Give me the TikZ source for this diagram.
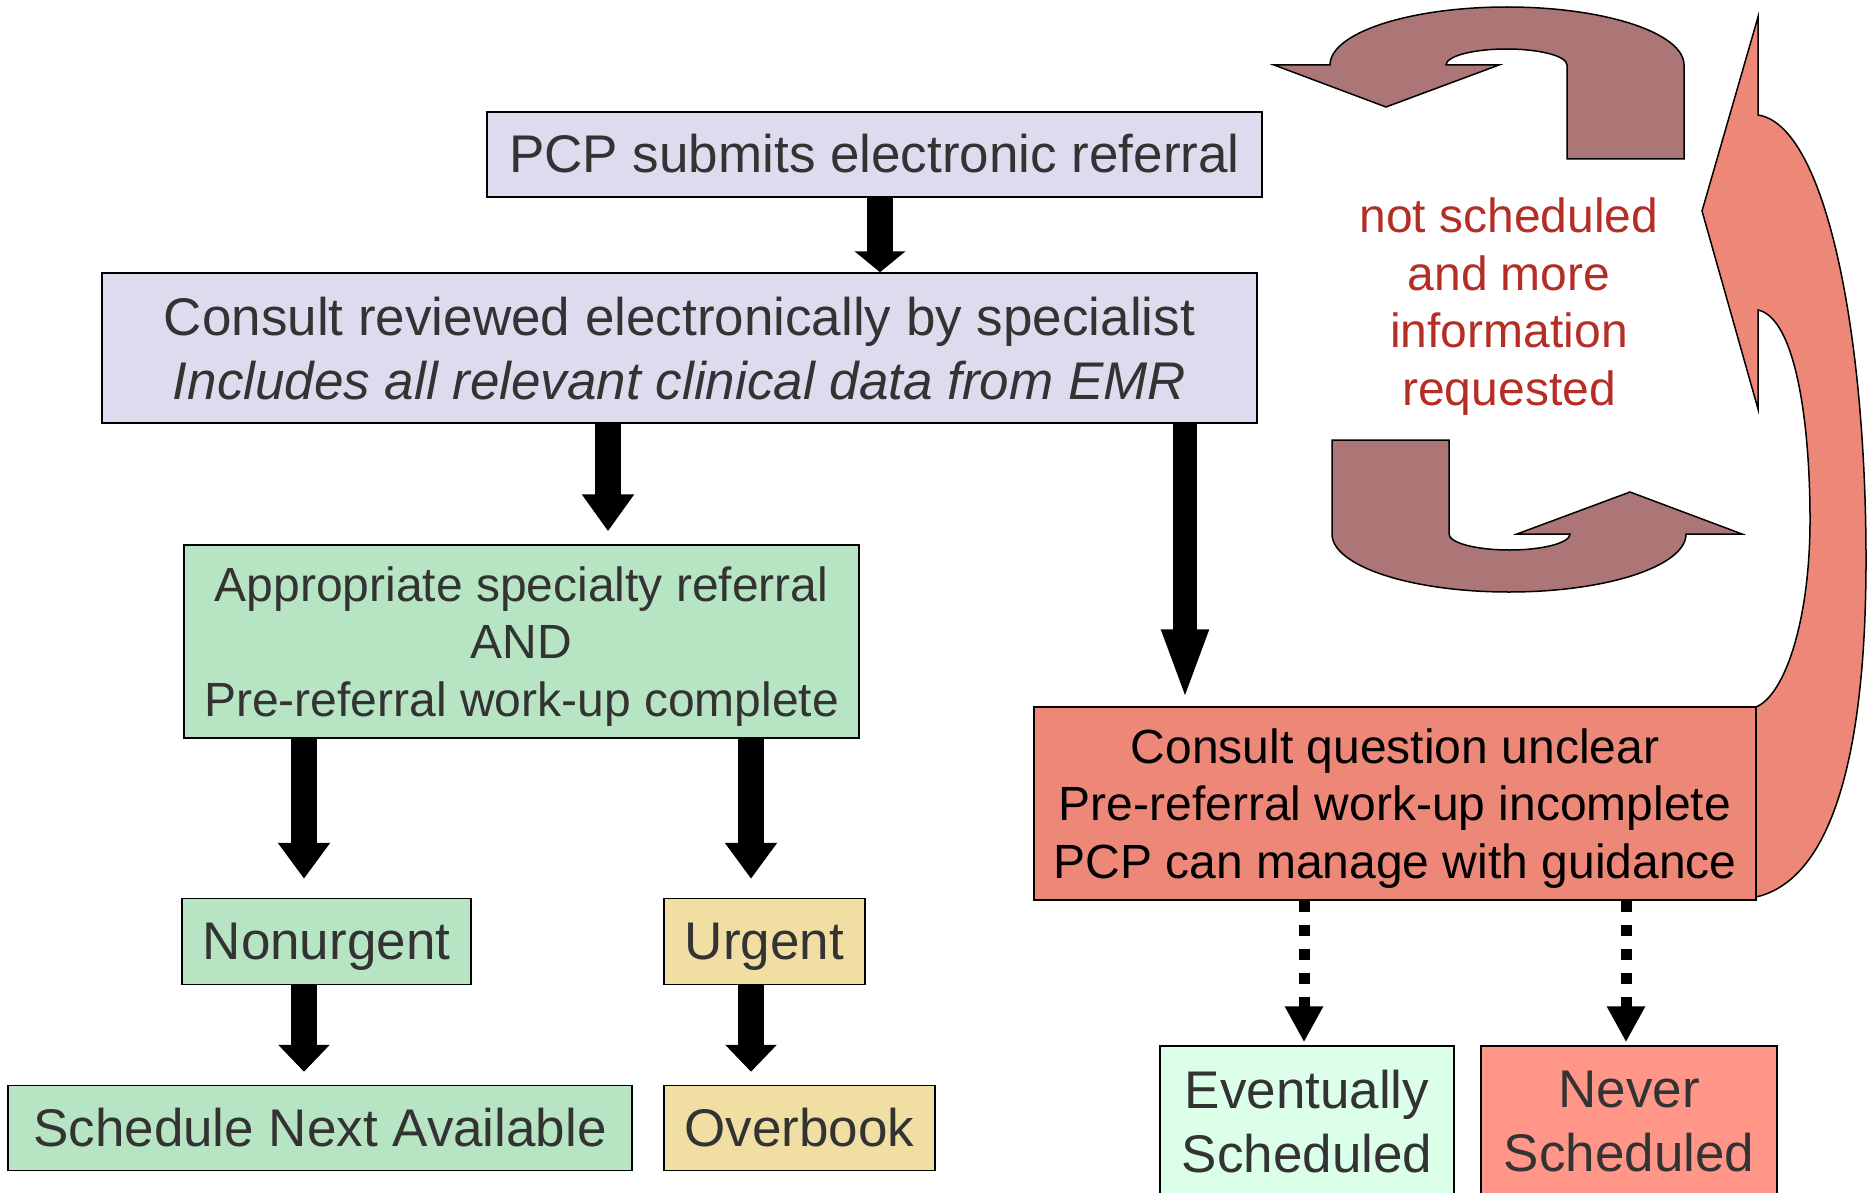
\documentclass[tikz,border=0pt]{standalone}
\usepackage{fontspec}
\setmainfont{Liberation Sans}
\usetikzlibrary{arrows.meta}

\definecolor{tim}{RGB}{220,220,238}
\definecolor{xanh}{RGB}{183,229,196}
\definecolor{vang}{RGB}{241,222,163}
\definecolor{hong}{RGB}{237,136,121}
\definecolor{hongnhat}{RGB}{255,150,136}
\definecolor{xanhnhat}{RGB}{220,255,234}
\definecolor{nau}{RGB}{172,118,118}
\definecolor{chudo}{RGB}{180,46,38}
\definecolor{chu}{RGB}{51,51,51}

% dòng chữ cao như trong PowerPoint
\newcommand{\dong}{\rule[-0.212em]{0pt}{1.117em}}

\tikzset{
  chuoi/.style={align=center, execute at begin node=\dong, execute at end node=\dong},
  nhieudong/.style={text depth=0pt},
  hop/.style={chuoi, draw=black, line width=1.5pt, text=chu, inner sep=0pt},
  lon/.style={font=\fontsize{53}{63.6}\selectfont},
  vua/.style={font=\fontsize{48}{57.6}\selectfont},
  muiten/.style={line width=26pt, -{Triangle[length=#1,width=50pt]}},
  muiten/.default=32pt,
  muicham/.style={line width=11pt, dash pattern=on 11pt off 13pt, -{Triangle[length=36pt,width=36pt]}}
}

\begin{document}
\begin{tikzpicture}[x=1pt, y=-1pt]
    \useasboundingbox (0,0) rectangle (1870,1193);

    % Các hộp
    \node[hop, lon, fill=tim, minimum width=775pt, minimum height=85pt] (pcp) at (874.5,154.5) {PCP submits electronic referral};
    \node[hop, lon, nhieudong, fill=tim, minimum width=1155pt, minimum height=150pt] (rev) at (679.5,348) {Consult reviewed electronically by specialist\\\textit{Includes all relevant clinical data from EMR}};
    \node[hop, vua, nhieudong, fill=xanh, minimum width=675pt, minimum height=193pt] (app) at (521.5,641.5) {Appropriate specialty referral\\AND\\Pre-referral work-up complete};
    \node[hop, lon, fill=xanh, minimum width=289pt, minimum height=86pt] (nonurg) at (326.5,941.5) {Nonurgent};
    \node[hop, lon, fill=vang, minimum width=201pt, minimum height=86pt] (urg) at (764.5,941.5) {Urgent};
    \node[hop, lon, fill=xanh, minimum width=624pt, minimum height=85pt] (sched) at (320,1128) {Schedule Next Available};
    \node[hop, lon, fill=vang, minimum width=271pt, minimum height=85pt] (over) at (799.5,1128) {Overbook};
    \node[hop, vua, nhieudong, fill=hong, text=black, minimum width=722pt, minimum height=193pt] (unclear) at (1395,803.5) {Consult question unclear\\Pre-referral work-up incomplete\\PCP can manage with guidance};
    \node[hop, lon, nhieudong, fill=xanhnhat, minimum width=294pt, minimum height=150pt] (event) at (1307,1121) {Eventually\\Scheduled};
    \node[hop, lon, nhieudong, fill=hongnhat, minimum width=296pt, minimum height=150pt] (never) at (1629,1121) {Never\\Scheduled};

    % Chữ đỏ ở giữa hai mũi tên cong
    \node[chuoi, vua, nhieudong, text=chudo] (note) at (1509,301.5) {not scheduled\\and more\\information\\requested};

    % Mũi tên đen
    \draw[muiten=21pt] (880,0 |- pcp.south) -- (880,0 |- rev.north);
    \draw[muiten=37pt, shorten >=13pt] (608,0 |- rev.south) -- (608,0 |- app.north);
    \draw[line width=24pt, -{Triangle[length=72pt,width=42pt]}, shorten >=5pt] (1185,0 |- rev.south) -- (1185,0 |- unclear.north);
    \draw[muiten=36pt, shorten >=19pt] (304,0 |- app.south) -- (304,0 |- nonurg.north);
    \draw[muiten=36pt, shorten >=19pt] (751,0 |- app.south) -- (751,0 |- urg.north);
    \draw[muiten=27pt, shorten >=13pt] (304,0 |- nonurg.south) -- (304,0 |- sched.north);
    \draw[muiten=27pt, shorten >=13pt] (751,0 |- urg.south) -- (751,0 |- over.north);

    % Mũi tên chấm
    \draw[muicham, shorten >=3pt] (1304,0 |- unclear.south) -- (1304,0 |- event.north);
    \draw[muicham, shorten >=3pt] (1626,0 |- unclear.south) -- (1626,0 |- never.north);

    % Hai mũi tên hình chữ U
    \foreach \goc in {0,180}
        \draw[line width=1.5pt, fill=nau, rotate around={\goc:(1508,299.5)}]
            (1567,159) -- (1567,65)
            arc[start angle=0, end angle=-180, x radius=60.5, y radius=16]
            -- (1499,65) -- (1386,107) -- (1274,65) -- (1330,65)
            arc[start angle=180, end angle=360, x radius=177, y radius=58]
            -- (1684,159) -- cycle;

    % Mũi tên lớn màu hồng quay lên
    \draw[line width=1.5pt, fill=hong] (1758,17) -- (1702,211) -- (1758,409) -- (1758,310)
        .. controls (1795,318) and (1810,420) .. (1810,520)
        .. controls (1810,620) and (1785,695) .. (1756,707)
        -- (1756,897)
        .. controls (1830,880) and (1866,760) .. (1866,560)
        .. controls (1866,330) and (1825,125) .. (1758,115) -- cycle;
\end{tikzpicture}
\end{document}
